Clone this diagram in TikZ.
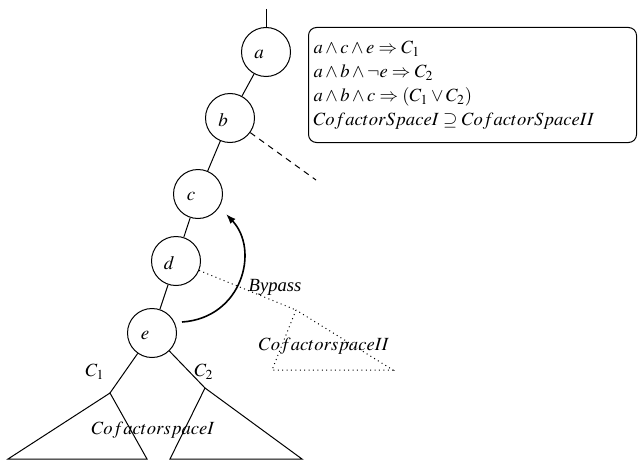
\documentclass[tikz,border=0pt]{standalone}
\usepackage{mathptmx}
\usepackage[no-math]{fontspec}
\setmainfont{Liberation Serif}
\usetikzlibrary{arrows.meta}
\tikzset{
  vtx/.style={draw, circle, minimum size=24.5pt, inner sep=0pt, line width=0.5pt},
  vlabel/.style={xshift=-3.5pt, yshift=-1pt, inner sep=0pt, font=\fontsize{9.5}{11}\selectfont},
  txt/.style={inner sep=0pt, font=\fontsize{9.3}{11}\selectfont},
  edge/.style={line width=0.5pt},
  dashedge/.style={line width=0.5pt, dash pattern=on 3pt off 2.5pt},
  dotedge/.style={line width=0.5pt, dash pattern=on 0.5pt off 1.7pt},
  bypass/.style={line width=0.8pt, -{Latex[length=5pt,width=3.5pt]}},
  rulebox/.style={draw, rounded corners=4pt, line width=0.5pt, anchor=north west,
    minimum width=164pt, minimum height=57.5pt, text width=159pt, inner xsep=2.5pt, inner ysep=0pt,
    align=left, font=\fontsize{9.3}{12}\selectfont}
}
\begin{document}
\begin{tikzpicture}[x=0.5pt, y=-0.5pt]
\useasboundingbox (0,0) rectangle (640,460);
% vertices
\node[vtx] (a) at (266,52) {};
\node[vtx] (b) at (230,118) {};
\node[vtx] (c) at (198,194) {};
\node[vtx] (d) at (176,261) {};
\node[vtx] (e) at (152,333) {};
\node[vlabel] (la) at (a) {$a$};
\node[vlabel] (lb) at (b) {$b$};
\node[vlabel] (lc) at (c) {$c$};
\node[vlabel] (ld) at (d) {$d$};
\node[vlabel] (le) at (e) {$e$};
% chain
\coordinate (top) at (266,9);
\draw[edge] (top) -- (a);
\draw[edge] (a) -- (b);
\draw[edge] (b) -- (c);
\draw[edge] (c) -- (d);
\draw[edge] (d) -- (e);
% dashed from b
\coordinate (bend) at (316,180);
\draw[dashedge] (b) -- (bend);
% subtrees
\coordinate (t1) at (110,393);
\coordinate (t1l) at (8,459);
\coordinate (t1r) at (147,459);
\coordinate (t2) at (205,388);
\coordinate (t2l) at (170,459);
\coordinate (t2r) at (302,459);
\draw[edge] (e) -- (t1);
\draw[edge] (e) -- (t2);
\draw[edge] (t1) -- (t1l) -- (t1r) -- cycle;
\draw[edge] (t2) -- (t2l) -- (t2r) -- cycle;
\node[txt] (c1) at (95,372) {$C_1$};
\node[txt] (c2) at (204,372) {$C_2$};
\node[txt] (csI) at (153,430) {$CofactorspaceI$};
% dotted subtree
\coordinate (t3) at (296,310);
\coordinate (t3l) at (272,370);
\coordinate (t3r) at (393,370);
\draw[dotedge] (d) -- (t3);
\draw[dotedge] (t3) -- (t3l) -- (t3r) -- cycle;
\node[txt] (csII) at (324,346) {$CofactorspaceII$};
% bypass arrow
\coordinate (bs) at (182,322);
\coordinate (be) at (226,214);
\draw[bypass] (bs) .. controls (242,318) and (260,250) .. (be);
\node[txt] (byp) at (275,287) {\textit{Bypass}};
% rule box
\node[rulebox] (rules) at (308,27) {%
$a\wedge c\wedge e\Rightarrow C_1$\\
$a\wedge b\wedge \neg e\Rightarrow C_2$\\
$a\wedge b\wedge c\Rightarrow (C_1\vee C_2)$\\
$CofactorSpaceI\supseteq CofactorSpaceII$};
\end{tikzpicture}
\end{document}
